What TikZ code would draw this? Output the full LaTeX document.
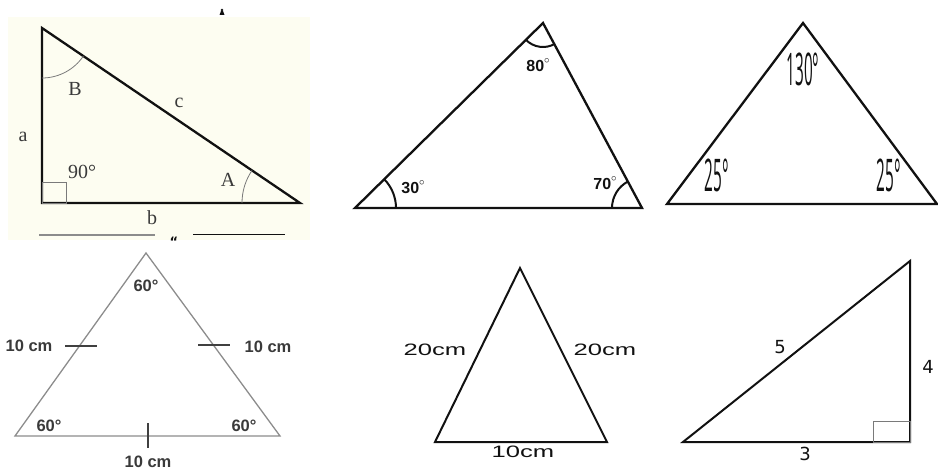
\documentclass[tikz,border=0pt]{standalone}
\usepackage{fontspec}
\usepackage{graphicx}
\setmainfont{Liberation Serif}
\setsansfont{Liberation Sans}
\newfontfamily\dejavu{DejaVu Sans}
\newfontfamily\opensans{Open Sans}
\usetikzlibrary{calc}
\definecolor{ink}{HTML}{111111}
\definecolor{paper}{HTML}{FDFDF1}
\definecolor{soft}{HTML}{7A7A7A}
\definecolor{grey}{HTML}{8C8C8C}
\definecolor{tickc}{HTML}{404040}
\definecolor{txt}{HTML}{3A3A3A}
\newcommand{\degup}{\raisebox{8pt}{$\scriptstyle\circ$}}

\begin{document}
\begin{tikzpicture}[x=1pt, y=1pt, ink,
  edge/.style={line width=2.3pt},
  thin/.style={line width=0.8pt, soft},
  serif/.style={font=\fontsize{20}{20}\selectfont, text=txt, inner sep=0pt},
  arial/.style={font=\sffamily\bfseries\fontsize{16}{16}\selectfont, inner sep=0pt},
  narrow/.style={font=\opensans\fontsize{45}{45}\selectfont, inner sep=0pt},
  cmlab/.style={font=\sffamily\bfseries\fontsize{16.5}{16.5}\selectfont, text=txt, inner sep=0pt},
  wide/.style={font=\sffamily\fontsize{16.5}{16.5}\selectfont, inner sep=0pt},
  digit/.style={font=\dejavu\fontsize{18}{18}\selectfont, inner sep=0pt}]

\useasboundingbox (0,0) rectangle (938,472);

% right triangle a b c
\fill[paper] (8,232) rectangle (310,455);
\coordinate (rB) at (42,444);
\coordinate (rC) at (42,269);
\coordinate (rA) at (300,269);
\draw[edge] (rB) -- (rC) -- (rA) -- cycle;
\draw[thin] (rC) rectangle ++(24,21);
\draw[thin] ([shift={(270:50)}]rB) arc[start angle=270, end angle=325.9, radius=50];
\draw[thin] ([shift={(145.9:58)}]rA) arc[start angle=145.9, end angle=180, radius=58];
\node[serif] (la) at (23,335) {a};
\node[serif] (lB) at (75,383) {B};
\node[serif] (lc) at (179,369) {c};
\node[serif] (l90) at (82,300) {90°};
\node[serif] (lA) at (228,292) {A};
\node[serif] (lb) at (152,254) {b};
\draw[line width=1.2pt, grey] (39,237) -- (155,237);
\draw[line width=1pt, ink] (193,237) -- (285,237);
\node[font=\dejavu\bfseries\fontsize{13}{13}\selectfont, inner sep=0pt] (quote) at (174,230) {“};
\fill (219.5,457) -- (224.5,457) -- (223,461) -- (221,461) -- cycle;
\fill (222,462) circle (1.3);

% 30 80 70
\coordinate (sT) at (543,449);
\coordinate (sL) at (355,264);
\coordinate (sR) at (642,264);
\draw[edge] (sT) -- (sL) -- (sR) -- cycle;
\draw[line width=2pt] ([shift={(0:41)}]sL) arc[start angle=0, end angle=44.5, radius=41];
\draw[line width=2pt] ([shift={(118.2:30)}]sR) arc[start angle=118.2, end angle=180, radius=30];
\draw[line width=2pt] ([shift={(224.5:24)}]sT) arc[start angle=224.5, end angle=298.2, radius=24];
\node[arial] (s80) at (538,407) {80\degup};
\node[arial] (s30) at (413,285) {30\degup};
\node[arial] (s70) at (605,289) {70\degup};

% 130 25 25
\coordinate (oT) at (803,449);
\coordinate (oL) at (667,268);
\coordinate (oR) at (937,268);
\draw[edge] (oT) -- (oL) -- (oR) -- cycle;
\node[narrow] (o130) at (803,403) {\scalebox{0.34}[1]{130°}};
\node[narrow] (o25l) at (717,297) {\scalebox{0.34}[1]{25°}};
\node[narrow] (o25r) at (889,297) {\scalebox{0.34}[1]{25°}};

% equilateral
\coordinate (eT) at (146,219);
\coordinate (eL) at (15,36);
\coordinate (eR) at (280,36);
\draw[line width=1.3pt, grey] (eT) -- (eL) -- (eR) -- cycle;
\draw[line width=2pt, tickc] (65,126) -- (97,126);
\draw[line width=2pt, tickc] (198,127) -- (230,127);
\draw[line width=2pt, tickc] (148,49) -- (148,24);
\node[cmlab] (e10l) at (29,126) {10 cm};
\node[cmlab] (e10r) at (268,125) {10 cm};
\node[cmlab] (e10b) at (148,10) {10 cm};
\node[cmlab] (e60t) at (146,186) {60°};
\node[cmlab] (e60l) at (49,46) {60°};
\node[cmlab] (e60r) at (244,46) {60°};

% isosceles
\coordinate (iT) at (520,204);
\coordinate (iL) at (435,30);
\coordinate (iR) at (607,30);
\draw[line width=2pt] (iT) -- (iL) -- (iR) -- cycle;
\node[wide] (i20l) at (435,122) {\scalebox{1.55}[1]{20cm}};
\node[wide] (i20r) at (605,122) {\scalebox{1.55}[1]{20cm}};
\node[wide] (i10) at (523,20) {\scalebox{1.55}[1]{10cm}};

% 3 4 5
\coordinate (pL) at (683,30);
\coordinate (pR) at (910,30);
\coordinate (pT) at (910,211);
\draw[line width=2pt] (pT) -- (pL) -- (pR) -- cycle;
\draw[thin] (pR) rectangle ++(-37,21);
\node[digit] (p5) at (780,125) {5};
\node[digit] (p4) at (928,105) {4};
\node[digit] (p3) at (805,18) {3};

\end{tikzpicture}
\end{document}
